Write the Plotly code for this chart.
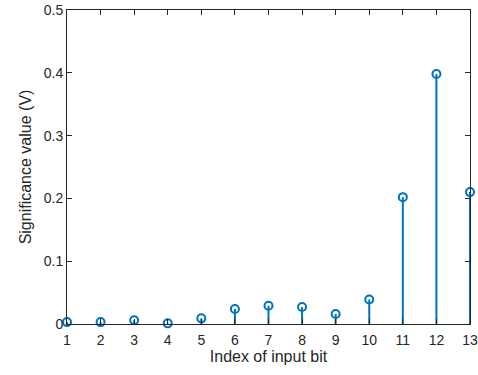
import plotly.graph_objects as go

bit_index = list(range(1, 14))
significance = [0.003, 0.003, 0.006, 0.001, 0.009, 0.024, 0.029, 0.027, 0.016, 0.039, 0.202, 0.398, 0.210]
y_ticks = [0, 0.1, 0.2, 0.3, 0.4, 0.5]
y_tick_labels = ["0", "0.1", "0.2", "0.3", "0.4", "0.5"]

blue = "#0072BD"
axcol = "#262626"

stem_x, stem_y = [], []
for xi, yi in zip(bit_index, significance):
    stem_x += [xi, xi, None]
    stem_y += [0, yi, None]

fig = go.Figure()
fig.add_trace(go.Scatter(x=stem_x, y=stem_y, mode="lines",
                         line=dict(color=blue, width=2), hoverinfo="skip",
                         showlegend=False, cliponaxis=False))
fig.add_trace(go.Scatter(x=bit_index, y=significance, mode="markers",
                         marker=dict(symbol="circle-open", size=8, color=blue,
                                     line=dict(width=2, color=blue)),
                         showlegend=False, cliponaxis=False))

font = dict(family="Liberation Sans, Arial, sans-serif", size=14, color=axcol)
fig.update_layout(
    width=478, height=375,
    margin=dict(l=67, r=8, t=10, b=51),
    plot_bgcolor="white", paper_bgcolor="white",
    font=font,
    xaxis=dict(range=[1, 13], tickvals=bit_index, ticktext=[str(v) for v in bit_index],
               showline=True, linecolor=axcol, linewidth=1, mirror="ticks",
               ticks="inside", ticklen=5, tickcolor=axcol, showgrid=False, zeroline=False,
               automargin=False, ticklabelstandoff=3,
               title=dict(text="Index of input bit", font=dict(size=16), standoff=4),
               tickfont=dict(size=14)),
    yaxis=dict(range=[0, 0.5], tickvals=y_ticks, ticktext=y_tick_labels,
               showline=True, linecolor=axcol, linewidth=1, mirror="ticks",
               ticks="inside", ticklen=5, tickcolor=axcol, showgrid=False, zeroline=False,
               automargin=False,
               title=dict(text="Significance value (V)", font=dict(size=16), standoff=8),
               tickfont=dict(size=14)),
)
post = ("document.documentElement.style.margin='0';"
        "document.documentElement.style.overflow='hidden';"
        "document.body.style.margin='0';"
        "document.body.style.overflow='hidden';")
fig.write_html("out.html", config={"displayModeBar": False}, post_script=post)
